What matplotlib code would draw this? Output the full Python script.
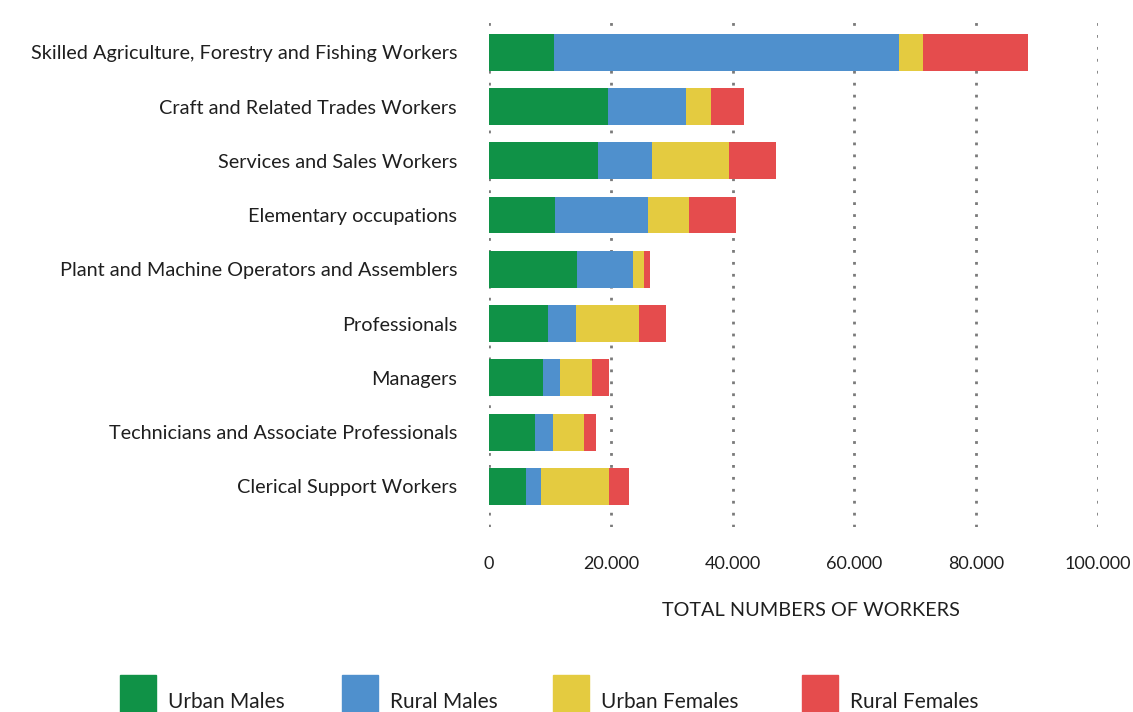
"""Stacked horizontal bars: workers by occupation, split by urban/rural and sex."""

import matplotlib.pyplot as plt
from matplotlib.patches import Rectangle
from matplotlib.ticker import FuncFormatter

occupations = [
    "Skilled Agriculture, Forestry and Fishing Workers",
    "Craft and Related Trades Workers",
    "Services and Sales Workers",
    "Elementary occupations",
    "Plant and Machine Operators and Assemblers",
    "Professionals",
    "Managers",
    "Technicians and Associate Professionals",
    "Clerical Support Workers",
]
urban_males = [10700, 19580, 17820, 10910, 14380, 9750, 8800, 7630, 6130]
rural_males = [56650, 12710, 8880, 15210, 9260, 4470, 2840, 2840, 2340]
urban_females = [3980, 4110, 12640, 6770, 1820, 10410, 5350, 5180, 11190]
rural_females = [17120, 5400, 7760, 7610, 990, 4460, 2670, 1840, 3340]

series_names = ["Urban Males", "Rural Males", "Urban Females", "Rural Females"]
series_colors = ["#109247", "#4f90cd", "#e4cb40", "#e54c4d"]
x_ticks = [0, 20000, 40000, 60000, 80000, 100000]

TEXT = "#1f1f1f"
plt.rcParams["font.family"] = ["Lato", "DejaVu Sans"]

W, H = 1133, 712
fig = plt.figure(figsize=(W / 100, H / 100), dpi=100)
ax = fig.add_axes([489 / W, 1 - 527 / H, 609 / W, 510 / H])

ypos = list(range(len(occupations)))
left = [0] * len(occupations)
for vals, color in zip([urban_males, rural_males, urban_females, rural_females], series_colors):
    ax.barh(ypos, vals, left=left, height=0.68, color=color, zorder=3)
    left = [a + b for a, b in zip(left, vals)]

ax.set_xlim(0, 100000)
ax.set_ylim(8.75, -0.65)
ax.set_yticks(ypos)
ax.set_yticklabels(occupations, fontsize=14.3, color=TEXT)
ax.set_xticks(x_ticks)
ax.xaxis.set_major_formatter(FuncFormatter(lambda v, _: f"{int(v):,}".replace(",", ".")))
ax.tick_params(axis="x", labelsize=13, colors=TEXT, length=0, pad=21)
ax.tick_params(axis="y", length=0, pad=23)
ax.grid(axis="x", color="#7a7a7a", linestyle=(0, (1, 3.3)), linewidth=2, zorder=0)
for s in ax.spines.values():
    s.set_visible(False)

fig.text(811 / W, 1 - 610 / H, "TOTAL NUMBERS OF WORKERS", ha="center", va="center",
         fontsize=14.3, color=TEXT)

# legend row, clipped at the bottom edge like the original
legend_x = [120, 342, 553, 802]
for x, name, color in zip(legend_x, series_names, series_colors):
    fig.patches.append(Rectangle((x / W, 0), 36 / W, 37 / H, transform=fig.transFigure,
                                 color=color))
    fig.text((x + 48) / W, 1 - 702 / H, name, ha="left", va="center", fontsize=15,
             color=TEXT)

fig.savefig("out.png", dpi=100)
